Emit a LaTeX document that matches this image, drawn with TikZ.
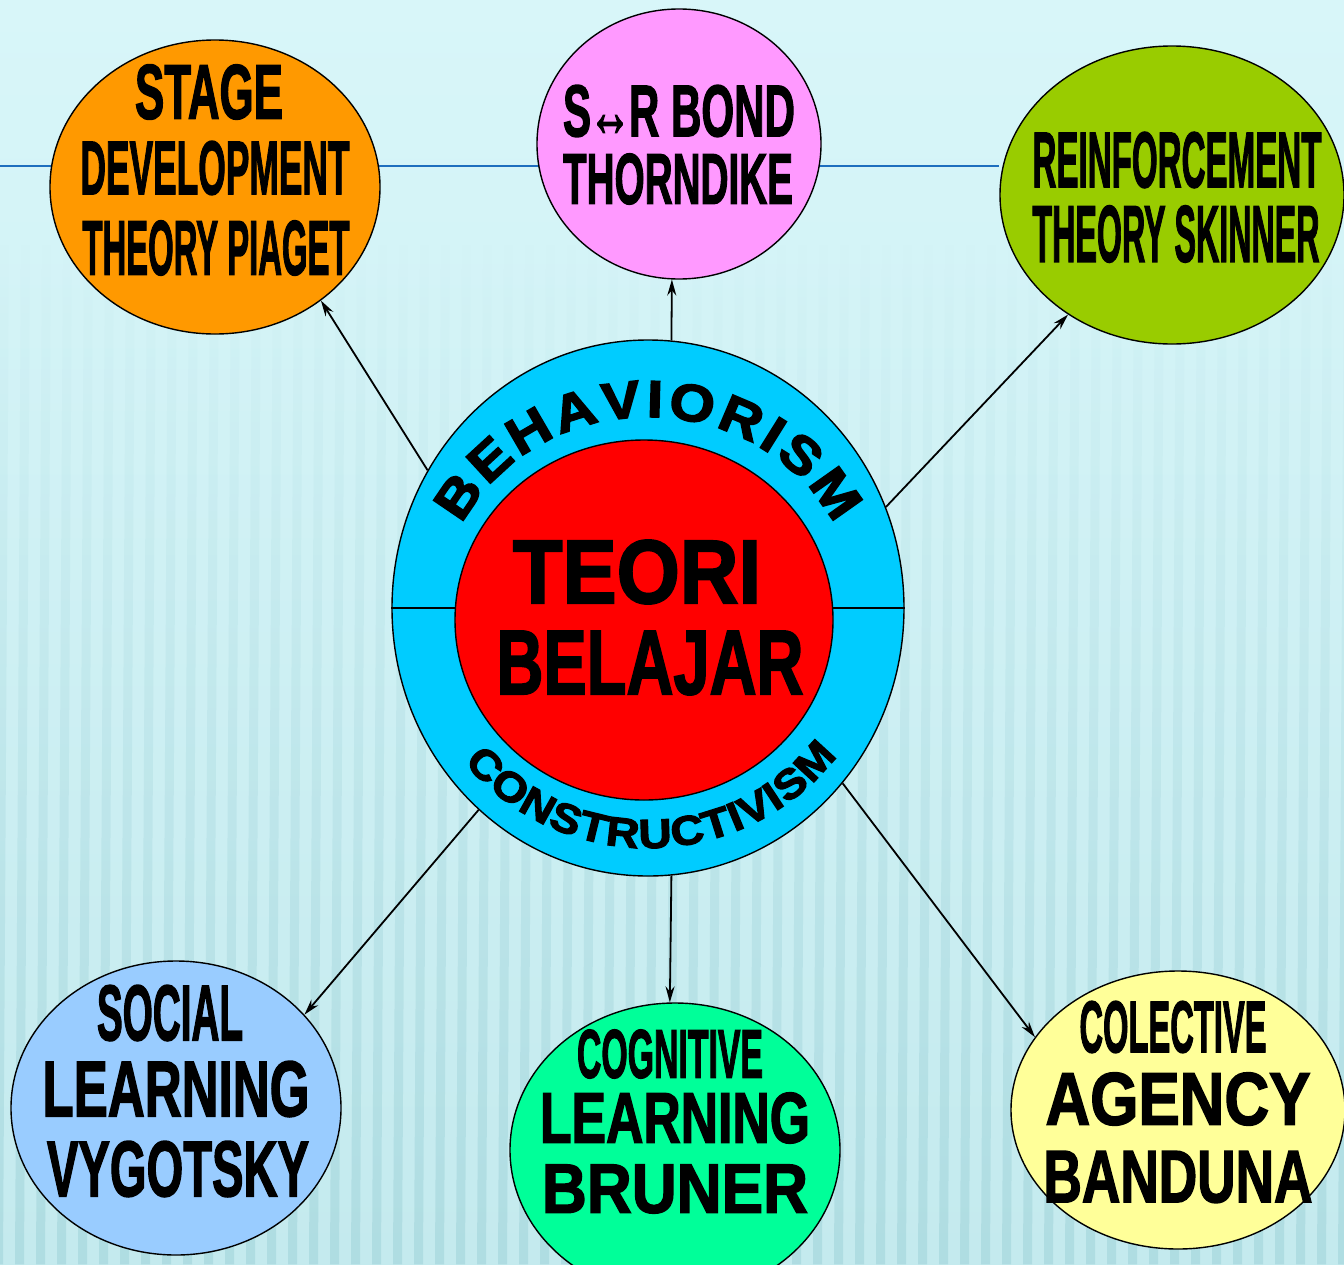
\documentclass[tikz,border=0pt]{standalone}
\usepackage{fontspec}
\usepackage{graphicx}
\setmainfont{Liberation Sans}
\newfontfamily\heavyfont{Liberation Sans}[BoldFeatures={FakeBold=2.2}]
\newfontfamily\blackfont{Liberation Sans}[BoldFeatures={FakeBold=3, FakeStretch=1.12}]
\usetikzlibrary{shapes.geometric,arrows.meta,decorations.text,fadings}
\pgfdeclarelayer{background}
\pgfsetlayers{background,main}
\definecolor{bgtop}{RGB}{216,246,249}
\definecolor{bgbot}{RGB}{196,234,238}
\definecolor{stripecol}{RGB}{150,205,212}
\definecolor{rulecol}{RGB}{30,110,190}
\definecolor{piagetorange}{RGB}{255,153,0}
\definecolor{thornpink}{RGB}{255,153,255}
\definecolor{skinnergreen}{RGB}{153,204,0}
\definecolor{vygblue}{RGB}{153,204,255}
\definecolor{brunergreen}{RGB}{0,255,153}
\definecolor{bandyellow}{RGB}{255,255,153}
\definecolor{ringblue}{RGB}{0,204,255}
\definecolor{corered}{RGB}{255,0,0}
\tikzstyle{bubble}=[ellipse,draw=black,line width=1.4pt,inner sep=0pt]
\tikzstyle{word}=[inner sep=0pt,outer sep=0pt]
\tikzstyle{link}=[draw,line width=1.8pt,-{Stealth[length=16pt,width=9pt]}]
\tikzstyle{rule}=[draw=rulecol,line width=2.5pt]
\newcommand{\fitline}[3]{\resizebox{#1pt}{#2pt}{\heavyfont\bfseries #3}}
\newcommand{\archfont}[1]{\blackfont\bfseries\fontsize{#1}{#1}\selectfont}

\begin{document}
\begin{tikzpicture}[x=1pt,y=-1pt]
    \useasboundingbox (0,0) rectangle (1344,1264);
    % First we draw the theory bubbles
    \foreach \pos/\rx/\ry/\fillcol/\name in {{(215,187)/330/294/piagetorange/piaget}, {(679,144)/284/270/thornpink/thorndike}, {(1172,195)/344/298/skinnergreen/skinner}, {(176,1108)/330/294/vygblue/vygotsky}, {(675,1150)/330/294/brunergreen/bruner}, {(1178,1110)/334/278/bandyellow/banduna}}
        \node[bubble, fill=\fillcol, minimum width=\rx pt, minimum height=\ry pt] (\name) at \pos {};
    % Background and the blue rule behind the top row
    \begin{pgfonlayer}{background}
        \fill[top color=bgtop, bottom color=bgbot] (0,0) rectangle (1344,1264);
        \foreach \i in {0,...,64}
            \fill[stripecol, opacity=0.45, path fading=north] (\i*21,240) -- ++(9,0) -- ++(-6,1024) -- ++(-9,0) -- cycle;
        \coordinate (ruleleft) at (0,166);
        \path[rule] (ruleleft) -- (ruleleft -| skinner.west);
    \end{pgfonlayer}
    % The centre: ring and core
    \node[bubble, fill=ringblue, minimum width=512pt, minimum height=536pt] (ring) at (648,608) {};
    \path[draw, line width=1.4pt] (ring.west) -- (ring.east);
    \node[bubble, fill=corered, minimum width=378pt, minimum height=360pt] (core) at (644,620) {};
    % Text lines, each fitted to its box
    \foreach \pos/\lw/\lh/\txt/\name in {{(209,92)/148/54/STAGE/stage}, {(215,168)/269/53/DEVELOPMENT/develop}, {(216,248)/267/54/THEORY PIAGET/piagetname},
        {(679,111)/232/51/S\kern-0.5pt↔\kern-0.5pt R BOND/srbond}, {(678,179)/230/50/THORNDIKE/thorndikename},
        {(1177,160)/289/55/REINFORCEMENT/reinforce}, {(1176,234)/287/56/THEORY SKINNER/skinnername},
        {(170,1013)/146/55/SOCIAL/social}, {(176,1089)/267/55/LEARNING/sociallearn}, {(178,1169)/262/55/VYGOTSKY/vygotskyname},
        {(670,1054)/186/48/COGNITIVE/cognitive}, {(675,1118)/270/50/LEARNING/coglearn}, {(675,1189)/266/48/BRUNER/brunername},
        {(1173,1027)/187/51/COLECTIVE/colective}, {(1178,1099)/265/52/AGENCY/agency}, {(1178,1177)/269/51/BANDUNA/bandunaname},
        {(637,572)/248/63/TEORI/teoriword}, {(650,663)/307/63/BELAJAR/belajarword}}
        \node[word] (\name) at \pos {\fitline{\lw}{\lh}{\txt}};
    % Curved titles in the ring
    \path[decorate, decoration={text along path, text align={fit to path}, text={|\archfont{52}|BEHAVIORISM}}]
        (ring.center) ++(-154:207 and 191) arc[start angle=-154, end angle=-26, x radius=207, y radius=191];
    \path[decorate, decoration={text along path, text align={fit to path}, text={|\archfont{41}|CONSTRUCTIVISM}}]
        (ring.center) ++(-220:240) arc[start angle=-220, end angle=-322, radius=240];
    % Connect the centre with the bubbles
    \foreach \source/\dest in {ring.148/piaget.-47, ring.85/thorndike.-93, ring.23/skinner.-131, ring.-130/vygotsky.36, ring.-85/bruner.92, ring.-42/banduna.153}
        \path[link] (\source) -- (\dest);
\end{tikzpicture}
\end{document}
